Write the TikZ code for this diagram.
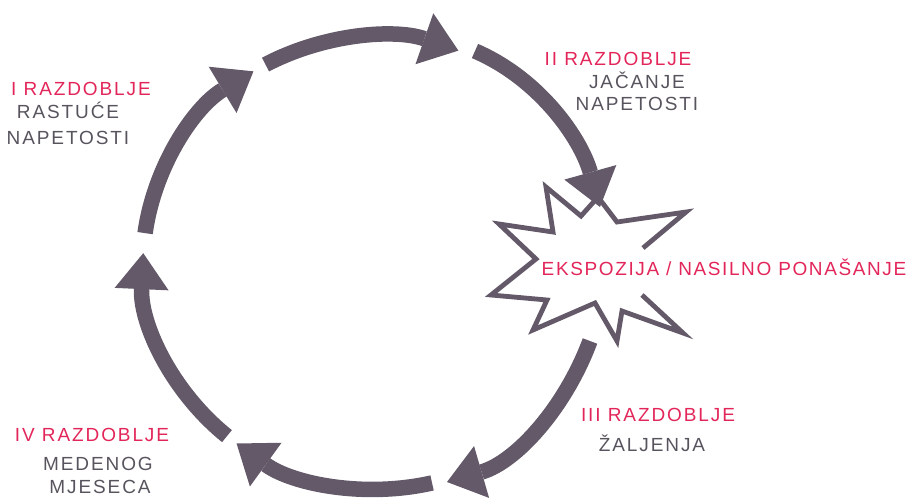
\documentclass[tikz,border=0pt]{standalone}
\usepackage{fontspec}
\setmainfont{Liberation Sans}
\newfontfamily\lblfont[LetterSpace=10]{Liberation Sans}
\newfontfamily\expofont[LetterSpace=8.5]{Liberation Sans}
\usetikzlibrary{arrows.meta,calc}
\definecolor{arrowc}{RGB}{99,89,105}
\definecolor{redc}{RGB}{227,38,90}
\definecolor{greyc}{RGB}{88,84,94}
\begin{document}
\begin{tikzpicture}[x=1pt,y=-1pt,
  cyc/.style={draw=arrowc, line width=15.5pt, line cap=butt,
    -{Triangle[width=54pt,length=36pt,line width=0pt]}},
  starline/.style={draw=arrowc, line width=4.8pt, line join=miter},
  ttl/.style={text=redc, font=\lblfont\fontsize{19}{22}\selectfont, anchor=base, inner sep=0pt},
  sub/.style={text=greyc, font=\lblfont\fontsize{19}{22}\selectfont, anchor=base, inner sep=0pt}]
\useasboundingbox (0,0) rectangle (911,498);
% star
\foreach \n/\p in {1/{643,248},2/{686,212},3/{617,222},4/{598,197},5/{581,216},6/{546,187},7/{553,232},8/{499,224},9/{536,259},10/{491,295},11/{547,300},12/{533,330},13/{595,303},14/{617,341},15/{622,311},16/{683,333},17/{642,295}}
  \coordinate (s\n) at (\p);
\fill[white] (s1) -- (s2) -- (s3) -- (s4) -- (s5) -- (s6) -- (s7) -- (s8) -- (s9) -- (s10) -- (s11) -- (s12) -- (s13) -- (s14) -- (s15) -- (s16) -- (s17) -- cycle;
\draw[starline] (s1) -- (s2) -- (s3) -- (s4) -- (s5) -- (s6) -- (s7) -- (s8) -- (s9) -- (s10) -- (s11) -- (s12) -- (s13) -- (s14) -- (s15) -- (s16) -- (s17);
\node[ttl, font=\expofont\fontsize{19}{22}\selectfont] (expo) at (724,275) {EKSPOZIJA / NASILNO PONAŠANJE};
% cycle arrows
\coordinate (O) at (378,263);
\coordinate (a1) at ($(O)+(187.6:235 and 226)$);
\coordinate (a2) at ($(O)+(241.4:235 and 226)$);
\coordinate (a5) at ($(O)+(76.7:235 and 226)$);
\coordinate (a6) at ($(O)+(130:235 and 226)$);
\coordinate (a3) at (475,51);
\coordinate (b3) at (600,207);
\coordinate (a4) at (590,341);
\coordinate (b4) at (447,482);
\draw[cyc] (a1) arc[start angle=187.6, end angle=238, x radius=235, y radius=226];
\draw[cyc] (a2) arc[start angle=241.4, end angle=290, x radius=235, y radius=226];
\draw[cyc] (a3) .. controls (540,79) and (581,139) .. (b3);
\draw[cyc] (a4) .. controls (565,408) and (516,462) .. (b4);
\draw[cyc] (a5) arc[start angle=76.7, end angle=127, x radius=235, y radius=226];
\draw[cyc] (a6) arc[start angle=130, end angle=182.5, x radius=235, y radius=226];
% labels
\node[ttl] (t1) at (81,95) {I RAZDOBLJE};
\node[sub] (t1a) at (68,118) {RASTUĆE};
\node[sub] (t1b) at (68,144) {NAPETOSTI};
\node[ttl] (t2) at (618,65) {II RAZDOBLJE};
\node[sub] (t2a) at (637,88) {JAČANJE};
\node[sub] (t2b) at (637,110) {NAPETOSTI};
\node[ttl] (t3) at (658,421) {III RAZDOBLJE};
\node[sub] (t3a) at (652,451) {ŽALJENJA};
\node[ttl] (t4) at (92,441) {IV RAZDOBLJE};
\node[sub] (t4a) at (98,470) {MEDENOG};
\node[sub] (t4b) at (100,493) {MJESECA};
\end{tikzpicture}
\end{document}
